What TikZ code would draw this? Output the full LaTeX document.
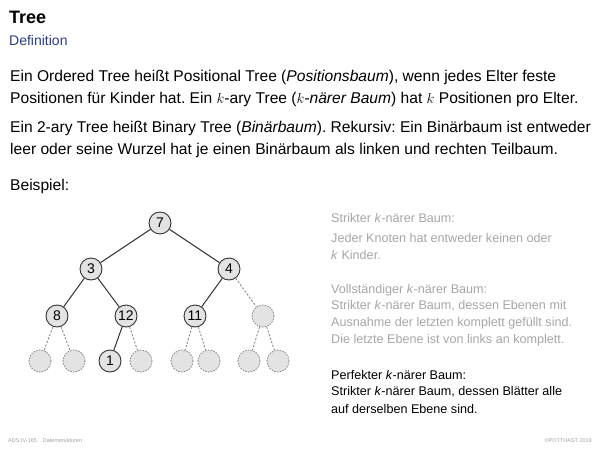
\documentclass[tikz,border=0pt]{standalone}
\usepackage{fontspec}
\setmainfont{Liberation Sans}
\frenchspacing
\definecolor{navy}{HTML}{2B3C8C}
\definecolor{sidegray}{HTML}{A6A6A6}
\definecolor{nodefill}{HTML}{E3E3E3}
\definecolor{edgecol}{HTML}{333333}
\definecolor{dashcol}{HTML}{8A8A8A}
\definecolor{footgray}{HTML}{A0A0A0}
\begin{document}
\begin{tikzpicture}[x=1pt,y=-1pt,
  txt/.style={anchor=west, inner sep=0pt, font=\fontsize{15.6}{18}\selectfont\frenchspacing},
  side/.style={anchor=west, inner sep=0pt, font=\fontsize{12.6}{14}\selectfont\frenchspacing, text=sidegray},
  sideb/.style={side, text=black},
  tn/.style={circle, draw=edgecol, fill=nodefill, minimum size=22pt, inner sep=0pt, line width=0.9pt, font=\fontsize{14}{16}\selectfont},
  en/.style={circle, draw=dashcol, fill=nodefill, minimum size=22pt, inner sep=0pt, line width=0.8pt, dash pattern=on 1.6pt off 1.2pt},
  edge/.style={draw=edgecol, line width=1pt},
  dedge/.style={draw=dashcol, line width=0.9pt, dash pattern=on 2.2pt off 1.6pt},
  foot/.style={anchor=west, inner sep=0pt, font=\fontsize{5.5}{6}\selectfont, text=footgray}
]
\useasboundingbox (0,0) rectangle (600,450);
% header
\node[anchor=west, inner sep=0pt, font=\fontsize{18}{20}\selectfont\bfseries] (title) at (9,17) {Tree};
\node[anchor=west, inner sep=0pt, font=\fontsize{14}{16}\selectfont, text=navy] (sub) at (9,40) {Definition};
% paragraphs
\node[txt] (p1a) at (10,77) {Ein Ordered Tree heißt Positional Tree (\textit{Positionsbaum}), wenn jedes Elter feste};
\node[txt] (p1b) at (10,99) {Positionen für Kinder hat. Ein $k$-ary Tree (\textit{$k$-närer Baum}) hat $k$ Positionen pro Elter.};
\node[txt] (p2a) at (10,128) {Ein 2-ary Tree heißt Binary Tree (\textit{Binärbaum}). Rekursiv: Ein Binärbaum ist entweder};
\node[txt] (p2b) at (10,150) {leer oder seine Wurzel hat je einen Binärbaum als linken und rechten Teilbaum.};
\node[txt] (bsp) at (10,186) {Beispiel:};
% tree
\node[tn] (n7) at (160,223) {7};
\node[tn] (n3) at (91,269) {3};
\node[tn] (n4) at (229,269) {4};
\node[tn] (n8) at (57,316) {8};
\node[tn] (n12) at (126,316) {12};
\node[tn] (n11) at (195,316) {11};
\node[en] (e1) at (263,316) {};
\node[en] (l1) at (40,361) {};
\node[en] (l2) at (74,361) {};
\node[tn] (n1) at (110,361) {1};
\node[en] (l4) at (141,361) {};
\node[en] (l5) at (182,361) {};
\node[en] (l6) at (209,361) {};
\node[en] (l7) at (249,361) {};
\node[en] (l8) at (278,361) {};
\draw[edge] (n7) -- (n3);
\draw[edge] (n7) -- (n4);
\draw[edge] (n3) -- (n8);
\draw[edge] (n3) -- (n12);
\draw[edge] (n4) -- (n11);
\draw[dedge] (n4) -- (e1);
\draw[dedge] (n8) -- (l1);
\draw[dedge] (n8) -- (l2);
\draw[edge] (n12) -- (n1);
\draw[dedge] (n12) -- (l4);
\draw[dedge] (n11) -- (l5);
\draw[dedge] (n11) -- (l6);
\draw[dedge] (e1) -- (l7);
\draw[dedge] (e1) -- (l8);
% side text
\node[side] (s1) at (331,218) {Strikter \textit{k}-närer Baum:};
\node[side] (s2) at (331,238) {Jeder Knoten hat entweder keinen oder};
\node[side] (s3) at (331,255) {\textit{k} Kinder.};
\node[side] (v1) at (331,290) {Vollständiger \textit{k}-närer Baum:};
\node[side] (v2) at (331,306) {Strikter \textit{k}-närer Baum, dessen Ebenen mit};
\node[side] (v3) at (331,323) {Ausnahme der letzten komplett gefüllt sind.};
\node[side] (v4) at (331,340) {Die letzte Ebene ist von links an komplett.};
\node[sideb] (f1) at (331,375) {Perfekter \textit{k}-närer Baum:};
\node[sideb] (f2) at (331,392) {Strikter \textit{k}-närer Baum, dessen Blätter alle};
\node[sideb] (f3) at (331,409) {auf derselben Ebene sind.};
% footer
\node[foot] (ft1) at (8,441) {ADS:IV-165\hspace{6pt}Datenstrukturen};
\node[foot, anchor=east] (ft2) at (592,441) {©POTTHAST 2019};
\end{tikzpicture}
\end{document}
